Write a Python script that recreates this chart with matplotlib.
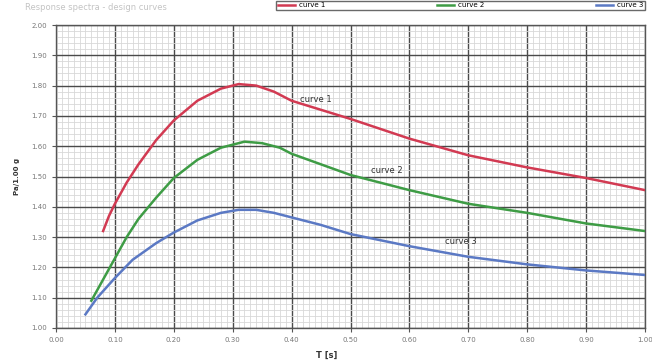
import matplotlib
matplotlib.use("Agg")
import matplotlib.pyplot as plt
from matplotlib.ticker import MultipleLocator, FormatStrFormatter

# ---- data ----
t1 = [0.08, 0.09, 0.10, 0.12, 0.14, 0.17, 0.20, 0.24, 0.28, 0.31, 0.34, 0.37, 0.40, 0.45, 0.50, 0.60, 0.70, 0.80, 0.90, 1.00]
y1 = [1.32, 1.37, 1.41, 1.48, 1.54, 1.62, 1.685, 1.75, 1.79, 1.805, 1.80, 1.78, 1.75, 1.72, 1.69, 1.625, 1.57, 1.53, 1.495, 1.455]

t2 = [0.06, 0.08, 0.10, 0.12, 0.14, 0.17, 0.20, 0.24, 0.28, 0.32, 0.35, 0.38, 0.40, 0.45, 0.50, 0.60, 0.70, 0.80, 0.90, 1.00]
y2 = [1.09, 1.16, 1.23, 1.30, 1.36, 1.43, 1.495, 1.555, 1.595, 1.615, 1.61, 1.595, 1.575, 1.54, 1.505, 1.455, 1.41, 1.38, 1.345, 1.32]

t3 = [0.05, 0.07, 0.10, 0.13, 0.17, 0.20, 0.24, 0.28, 0.31, 0.34, 0.37, 0.40, 0.45, 0.50, 0.60, 0.70, 0.80, 0.90, 1.00]
y3 = [1.045, 1.10, 1.165, 1.225, 1.28, 1.315, 1.355, 1.38, 1.39, 1.39, 1.38, 1.365, 1.34, 1.31, 1.27, 1.235, 1.21, 1.19, 1.175]

series_names = ["curve 1", "curve 2", "curve 3"]
label_pos = [(0.415, 1.755), (0.535, 1.52), (0.66, 1.285)]
colors = ["#d23a52", "#3e9c45", "#5b79c4"]

title = "Response spectra - design curves"
x_label = "T [s]"
y_label = "Pa/1.00 g"

fig = plt.figure(figsize=(6.52, 3.62), dpi=100)
ax = fig.add_axes([56/652, 34/362, (645-56)/652, (328-25)/362])

for t, y, c, n in zip([t1, t2, t3], [y1, y2, y3], colors, series_names):
    ax.plot(t, y, color=c, lw=1.8, label=n, zorder=3, solid_joinstyle="round")

for (lx, ly), n in zip(label_pos, series_names):
    ax.text(lx, ly, n, fontsize=6, color="#333333", ha="left", va="center", zorder=4)

ax.set_xlim(0.0, 1.0)
ax.set_ylim(1.0, 2.0)
ax.xaxis.set_major_locator(MultipleLocator(0.1))
ax.yaxis.set_major_locator(MultipleLocator(0.1))
ax.xaxis.set_minor_locator(MultipleLocator(0.01))
ax.yaxis.set_minor_locator(MultipleLocator(0.02))
ax.xaxis.set_major_formatter(FormatStrFormatter("%.2f"))
ax.yaxis.set_major_formatter(FormatStrFormatter("%.2f"))
ax.grid(which="major", color="#4a4a4a", lw=1.0, zorder=1)
ax.grid(which="minor", color="#d8d8d8", lw=0.6, zorder=0)
ax.tick_params(which="major", labelsize=5, colors="#777777", length=3, width=0.8)
ax.tick_params(which="minor", length=0)
ax.tick_params(axis="both", which="major", color="#555555")
for s in ax.spines.values():
    s.set_color("#555555")
    s.set_linewidth(1.0)
ax.set_xlabel(x_label, fontsize=6, fontweight="bold", color="#333333", labelpad=0)
ax.xaxis.set_label_coords(0.46, -0.075)
ax.set_ylabel(y_label, fontsize=5, fontweight="bold", color="#333333", labelpad=8)

fig.text(25/652, 1 - 8/362, title, fontsize=6, color="#c4c4c4", ha="left", va="center")

leg = fig.legend(loc="upper right", bbox_to_anchor=(646/652, 1.0), ncol=3,
                 fontsize=5, frameon=True, fancybox=False, edgecolor="#444444",
                 handlelength=2.5, columnspacing=16, borderpad=0.25,
                 handletextpad=0.6, borderaxespad=0.1)
leg.get_frame().set_linewidth(1.0)

fig.savefig("out.png", dpi=100)
